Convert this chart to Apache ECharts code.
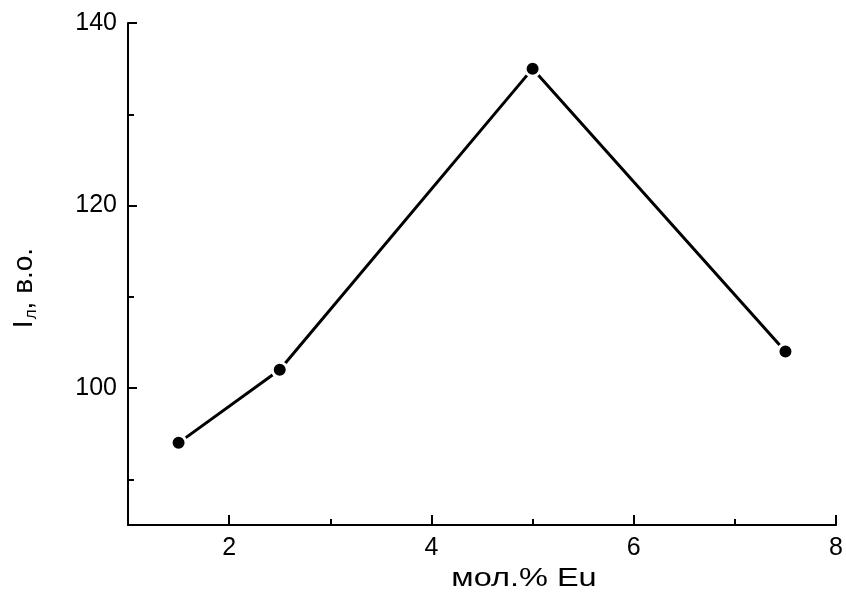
<!DOCTYPE html>
<html>
<head>
<meta charset="utf-8">
<script src="https://cdn.jsdelivr.net/npm/echarts@6/dist/echarts.min.js"></script>
<style>html,body{margin:0;padding:0;background:#fff}#c{width:846px;height:592px}</style>
</head>
<body>
<div id="c"></div>
<script>
const xValues = [1.5, 2.5, 5, 7.5];
const yValues = [94, 102, 135, 104];
const xMajorTicks = [2, 4, 6, 8];
const xMinorTicks = [3, 5, 7];
const yMajorTicks = [100, 120, 140];
const yMinorTicks = [90, 110, 130];
const xTitle = 'мол.% Eu';

const chart = echarts.init(document.getElementById('c'));
const font = 'Liberation Sans, Arial, sans-serif';
const ink = '#000';
const axisLine = {show: true, lineStyle: {color: ink, width: 2}};
chart.setOption({
  animation: false,
  backgroundColor: '#fff',
  grid: {left: 128, right: 9, top: 23, bottom: 67, containLabel: false},
  graphic: [{
    type: 'text', x: 524, y: 579, scaleX: 1.3, silent: true,
    style: {text: xTitle, fill: ink, font: '25px ' + font, align: 'center', verticalAlign: 'middle'}
  }],
  xAxis: [{
    type: 'value', min: 1, max: 8,
    axisLine: axisLine,
    axisTick: {show: true, inside: true, length: 10, customValues: xMajorTicks, lineStyle: {color: ink, width: 2}},
    axisLabel: {customValues: xMajorTicks, color: ink, fontFamily: font, fontSize: 25, margin: 11},
    splitLine: {show: false}
  }, {
    type: 'value', min: 1, max: 8, position: 'bottom',
    axisLine: {show: false},
    axisTick: {show: true, inside: true, length: 6, customValues: xMinorTicks, lineStyle: {color: ink, width: 2}},
    axisLabel: {show: false},
    splitLine: {show: false}
  }],
  yAxis: [{
    type: 'value', min: 85, max: 140,
    axisLine: axisLine,
    axisTick: {show: true, inside: true, length: 9, customValues: yMajorTicks, lineStyle: {color: ink, width: 2}},
    axisLabel: {customValues: yMajorTicks, color: ink, fontFamily: font, fontSize: 25, margin: 11},
    splitLine: {show: false},
    name: '{a|I}{b|л}{a|, в.о.}', nameLocation: 'middle', nameGap: 88,
    nameTextStyle: {
      color: ink, fontFamily: font, fontSize: 28, padding: [0, 28, 0, 0],
      rich: {
        a: {fontFamily: font, fontSize: 28, color: ink},
        b: {fontFamily: font, fontSize: 17, color: ink, verticalAlign: 'bottom', padding: [14, 0, 0, 1]}
      }
    }
  }, {
    type: 'value', min: 85, max: 140, position: 'left',
    axisLine: {show: false},
    axisTick: {show: true, inside: true, length: 6, customValues: yMinorTicks, lineStyle: {color: ink, width: 2}},
    axisLabel: {show: false},
    splitLine: {show: false}
  }],
  series: [{
    type: 'line',
    xAxisIndex: 0, yAxisIndex: 0,
    data: xValues.map((x, i) => [x, yValues[i]]),
    symbol: 'circle', symbolSize: 15,
    lineStyle: {color: ink, width: 3},
    itemStyle: {color: ink, borderColor: '#fff', borderWidth: 3},
    emphasis: {disabled: true}
  }]
});
</script>
</body>
</html>
